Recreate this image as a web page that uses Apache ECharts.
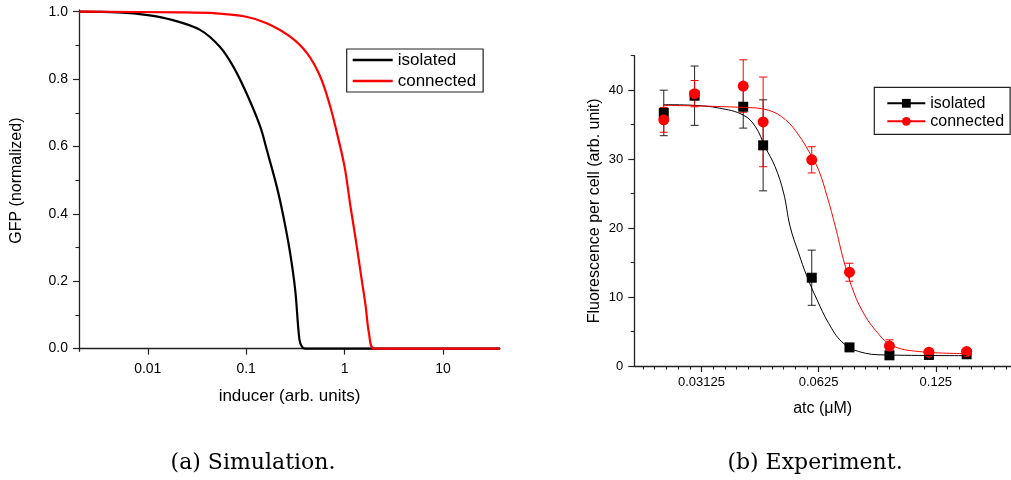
<!DOCTYPE html>
<html><head><meta charset="utf-8">
<script src="https://cdn.jsdelivr.net/npm/echarts@6/dist/echarts.min.js"></script>
<style>html,body{margin:0;padding:0;background:#fff}#c{width:1011px;height:480px}</style>
</head><body><div id="c"></div>
<script>
// ---------- (a) Simulation ----------
const simIsoX = [0.002, 0.005, 0.01, 0.018, 0.034, 0.054, 0.074, 0.1, 0.139, 0.162, 0.205, 0.239, 0.28, 0.315, 0.348, 0.37, 0.4, 1, 38];
const simIsoY = [1.0, 0.998, 0.99, 0.975, 0.946, 0.896, 0.837, 0.76, 0.659, 0.59, 0.48, 0.392, 0.283, 0.174, 0.026, 0.005, 0.0, 0.0, 0.0];
const simConX = [0.002, 0.02, 0.05, 0.1, 0.162, 0.28, 0.415, 0.567, 0.716, 0.838, 1.0, 1.15, 1.3, 1.46, 1.64, 1.77, 2.0, 5, 38];
const simConY = [1.0, 0.998, 0.995, 0.985, 0.966, 0.926, 0.877, 0.807, 0.718, 0.639, 0.54, 0.421, 0.323, 0.224, 0.125, 0.046, 0.0, 0.0, 0.0];
const simXTicks = [0.01, 0.1, 1, 10];
const simYTicks = [0, 0.2, 0.4, 0.6, 0.8, 1.0];
const simYMinor = [0.1, 0.3, 0.5, 0.7, 0.9];

// ---------- (b) Experiment ----------
const expAtc     = [0.025, 0.03, 0.04, 0.045, 0.06, 0.075, 0.095, 0.12, 0.15];
const expIsoMean = [36.7, 39.2, 37.6, 32.0, 12.8, 2.7, 1.55, 1.6, 1.7];
const expIsoErr  = [3.3, 4.3, 3.1, 6.6, 4.0, 0.3, 0.2, 0.2, 0.2];
const expConMean = [35.7, 39.5, 40.6, 35.4, 29.9, 13.6, 2.9, 2.0, 2.1];
const expConErr  = [1.8, 1.9, 3.8, 6.5, 1.9, 1.3, 0.9, 0.2, 0.2];
const fitIsoX = [0.025, 0.03, 0.0347, 0.04, 0.043, 0.0455, 0.0483, 0.0508, 0.0528, 0.0555, 0.0583, 0.0619, 0.0663, 0.0717, 0.0792, 0.0927, 0.15];
const fitIsoY = [37.9, 37.8, 37.4, 36.4, 34.7, 31.8, 28.9, 25.1, 20.2, 16.4, 13.0, 9.6, 6.2, 3.5, 2.1, 1.6, 1.5];
const fitConX = [0.025, 0.04, 0.0464, 0.0514, 0.0555, 0.059, 0.0625, 0.0657, 0.069, 0.0724, 0.076, 0.0807, 0.0874, 0.0963, 0.113, 0.15];
const fitConY = [37.8, 37.5, 37.1, 35.7, 33.5, 31.1, 28.4, 24.6, 20.2, 15.4, 11.5, 8.1, 5.2, 3.0, 2.1, 1.8];
const expXTicks = [0.03125, 0.0625, 0.125];
const expYTicks = [0, 10, 20, 30, 40];
const expYMinor = [5, 15, 25, 35, 45];

const expXMinor = [];
for (let k = -6; k <= 27; k++) { if (k % 10 !== 0) expXMinor.push(0.03125 * Math.pow(2, k / 10)); }

const zip = (a, b) => a.map((v, i) => [v, b[i]]);
const FONT = '"Liberation Sans", Arial, sans-serif';
const AX = '#222';
const axLine = { show: true, lineStyle: { color: AX, width: 1.3 } };

function errSeries(name, color, data) {
  return {
    type: 'custom', name, xAxisIndex: 2, yAxisIndex: 2, data,
    encode: { x: 0, y: [1, 2] },
    renderItem(params, api) {
      const x = api.value(0), lo = api.value(1), hi = api.value(2);
      const p1 = api.coord([x, hi]), p2 = api.coord([x, lo]);
      const hw = 4, st = { stroke: color, lineWidth: 1 };
      return { type: 'group', children: [
        { type: 'line', shape: { x1: p1[0], y1: p1[1], x2: p2[0], y2: p2[1] }, style: st },
        { type: 'line', shape: { x1: p1[0] - hw, y1: p1[1], x2: p1[0] + hw, y2: p1[1] }, style: st },
        { type: 'line', shape: { x1: p2[0] - hw, y1: p2[1], x2: p2[0] + hw, y2: p2[1] }, style: st }
      ]};
    }
  };
}
const fmtNum = v => String(+(+v).toPrecision(6));

const chart = echarts.init(document.getElementById('c'));
chart.setOption({
  animation: false,
  backgroundColor: '#fff',
  grid: [
    { left: 79, top: 10, width: 421, height: 341.3 },
    { left: 634.3, top: 55.7, width: 376.7, height: 310.3 }
  ],
  xAxis: [
    { gridIndex: 0, type: 'log', logBase: 10, min: 0.002, max: 38, position: 'bottom',
      axisLine: axLine, splitLine: { show: false },
      axisTick: { show: true, length: 6, lineStyle: { color: AX, width: 1.2 }, customValues: simXTicks },
      axisLabel: { customValues: simXTicks, formatter: fmtNum, fontSize: 14, fontFamily: FONT, color: '#000', margin: 11 },
      name: 'inducer (arb. units)', nameLocation: 'middle', nameGap: 37,
      nameTextStyle: { fontSize: 17, fontFamily: FONT, color: '#000' } },
    { gridIndex: 1, type: 'log', logBase: 2, min: 0.021, max: 0.195, position: 'bottom', show: true,
      axisLine: { show: false }, splitLine: { show: false }, axisLabel: { show: false },
      axisTick: { show: true, length: 3.5, lineStyle: { color: AX, width: 1.1 }, customValues: expXMinor } },
    { gridIndex: 1, type: 'log', logBase: 2, min: 0.021, max: 0.195, position: 'bottom',
      axisLine: axLine, splitLine: { show: false },
      axisTick: { show: true, length: 6, lineStyle: { color: AX, width: 1.2 }, customValues: expXTicks },
      axisLabel: { customValues: expXTicks, formatter: fmtNum, fontSize: 13, fontFamily: FONT, color: '#000', margin: 10 },
      name: 'atc (\u03bcM)', nameLocation: 'middle', nameGap: 35,
      nameTextStyle: { fontSize: 16, fontFamily: FONT, color: '#000' } }
  ],
  yAxis: [
    { gridIndex: 0, type: 'value', min: -0.008, max: 1.005, position: 'left',
      axisLine: axLine, splitLine: { show: false },
      axisTick: { show: true, length: 6, lineStyle: { color: AX, width: 1.2 }, customValues: simYTicks },
      axisLabel: { customValues: simYTicks, formatter: v => (+v).toFixed(1), fontSize: 14, fontFamily: FONT, color: '#000', margin: 11 },
      name: 'GFP (normalized)', nameLocation: 'middle', nameGap: 54,
      nameTextStyle: { fontSize: 16, fontFamily: FONT, color: '#000' } },
    { gridIndex: 0, type: 'value', min: -0.008, max: 1.005, position: 'left',
      axisLine: { show: false }, splitLine: { show: false }, axisLabel: { show: false },
      axisTick: { show: true, length: 3.5, lineStyle: { color: AX, width: 1.1 }, customValues: simYMinor } },
    { gridIndex: 1, type: 'value', min: 0, max: 45, position: 'left',
      axisLine: axLine, splitLine: { show: false },
      axisTick: { show: true, length: 6, lineStyle: { color: AX, width: 1.2 }, customValues: expYTicks },
      axisLabel: { customValues: expYTicks, fontSize: 13, fontFamily: FONT, color: '#000', margin: 11 },
      name: 'Fluorescence per cell (arb. unit)', nameLocation: 'middle', nameGap: 32,
      nameTextStyle: { fontSize: 16, fontFamily: FONT, color: '#000' } },
    { gridIndex: 1, type: 'value', min: 0, max: 45, position: 'left',
      axisLine: { show: false }, splitLine: { show: false }, axisLabel: { show: false },
      axisTick: { show: true, length: 3.5, lineStyle: { color: AX, width: 1.1 }, customValues: expYMinor } }
  ],
  legend: [
    { left: 346.7, top: 49, orient: 'vertical', selectedMode: false,
      data: [{ name: 'isolated', icon: 'rect' }, { name: 'connected', icon: 'rect' }],
      itemWidth: 40, itemHeight: 2.5, itemGap: 4, padding: [2.5, 7, 2.5, 6],
      borderColor: AX, borderWidth: 1.2, backgroundColor: '#fff',
      textStyle: { fontSize: 17, fontFamily: FONT, color: '#000' } },
    { left: 874.3, top: 87.3, orient: 'vertical', selectedMode: false,
      data: ['isolated_b', 'connected_b'], formatter: n => n.split('_')[0],
      itemWidth: 38, itemHeight: 11, itemGap: 2, padding: [8, 6, 5, 12],
      borderColor: AX, borderWidth: 1.2, backgroundColor: '#fff',
      textStyle: { fontSize: 16, fontFamily: FONT, color: '#000' } }
  ],
  series: [
    { type: 'line', name: 'isolated', xAxisIndex: 0, yAxisIndex: 0, data: zip(simIsoX, simIsoY),
      smooth: 0.35, showSymbol: false, symbol: 'none',
      color: '#000', lineStyle: { color: '#000', width: 2.2 } },
    { type: 'line', name: 'connected', xAxisIndex: 0, yAxisIndex: 0, data: zip(simConX, simConY),
      smooth: 0.35, showSymbol: false, symbol: 'none',
      color: '#f00', lineStyle: { color: '#f00', width: 2.2 } },

    { type: 'line', name: 'isolated_b', xAxisIndex: 2, yAxisIndex: 2, data: zip(fitIsoX, fitIsoY),
      smooth: 0.4, showSymbol: false, symbol: 'rect', symbolSize: 9,
      color: '#000', itemStyle: { color: '#000' }, lineStyle: { color: '#000', width: 1 } },
    errSeries('isolated err', '#222', expAtc.map((x, i) => [x, expIsoMean[i] - expIsoErr[i], expIsoMean[i] + expIsoErr[i]])),
    { type: 'scatter', name: 'isolated pts', xAxisIndex: 2, yAxisIndex: 2, data: zip(expAtc, expIsoMean),
      symbol: 'rect', symbolSize: 10, itemStyle: { color: '#000', opacity: 1 } },

    { type: 'line', name: 'connected_b', xAxisIndex: 2, yAxisIndex: 2, data: zip(fitConX, fitConY),
      smooth: 0.4, showSymbol: false, symbol: 'circle', symbolSize: 9,
      color: '#f00', itemStyle: { color: '#f00' }, lineStyle: { color: '#f00', width: 1 } },
    errSeries('connected err', '#f00', expAtc.map((x, i) => [x, expConMean[i] - expConErr[i], expConMean[i] + expConErr[i]])),
    { type: 'scatter', name: 'connected pts', xAxisIndex: 2, yAxisIndex: 2, data: zip(expAtc, expConMean),
      symbol: 'circle', symbolSize: 11, itemStyle: { color: '#f00', opacity: 1 } }
  ],
  graphic: [
    { type: 'text', x: 253, y: 463, style: { text: '(a) Simulation.', font: '22px "DejaVu Serif", serif', fill: '#000', align: 'center', verticalAlign: 'middle' } },
    { type: 'text', x: 815, y: 463, style: { text: '(b) Experiment.', font: '22px "DejaVu Serif", serif', fill: '#000', align: 'center', verticalAlign: 'middle' } }
  ]
});
</script></body></html>
